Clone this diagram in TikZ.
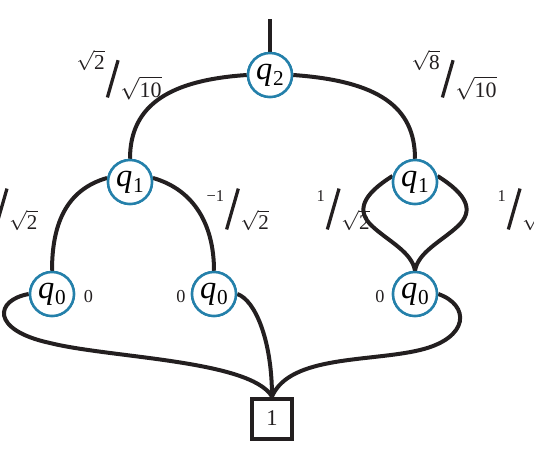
\documentclass[tikz,border=0pt]{standalone}
\usepackage{fontspec}
\setmainfont{Liberation Serif}
\definecolor{qblue}{RGB}{36,128,170}
\definecolor{ink}{RGB}{35,31,32}
\newcommand\qq[1]{{\fontsize{13}{13}\selectfont\itshape q}\kern0.3pt\raisebox{-2.4pt}{\fontsize{8.5}{8.5}\selectfont #1}}
\newcommand\rt[1]{$\sqrt{\mbox{#1}}$}
\newcommand\myfrac[4]{\raisebox{#1}{#2}\kern0.4pt\rotatebox{-16}{\rule{1.3pt}{#4}}\kern0.3pt#3}
\newcommand\topfrac[1]{\myfrac{11.2pt}{\fontsize{8.5}{8.5}\selectfont\rt{#1}}{\fontsize{8.8}{8.8}\selectfont\rt{10}}{15.5pt}}
\newcommand\lowfrac[1]{\myfrac{11.2pt}{\fontsize{6.6}{6.6}\selectfont #1}{\fontsize{8.4}{8.4}\selectfont\rt{2}}{17pt}}
\tikzset{
  qnode/.style={circle, draw=qblue, line width=1pt, minimum size=17.6pt, inner sep=0pt, fill=white},
  edge/.style={line width=1.6pt, draw=ink},
  lab/.style={inner sep=0pt, anchor=base west, text=ink},
  zlab/.style={inner sep=0pt, text=ink, font=\fontsize{7.3}{7.3}\selectfont},
  termbox/.style={draw=ink, line width=1.6pt, minimum size=16pt, inner sep=0pt, fill=white, text=ink, font=\fontsize{9}{9}\selectfont}
}
\begin{document}
\begin{tikzpicture}[x=0.4pt, y=-0.4pt]
\useasboundingbox (0,0) rectangle (534,462);
\clip (0,0) rectangle (534,462);
% nodes
\node[qnode] (q2) at (270,75) {\qq{2}};
\node[qnode] (q1L) at (130,182) {\qq{1}};
\node[qnode] (q1R) at (415,182) {\qq{1}};
\node[qnode] (q0L) at (52,294) {\qq{0}};
\node[qnode] (q0M) at (214,294) {\qq{0}};
\node[qnode] (q0R) at (415,294) {\qq{0}};
\node[termbox] (one) at (272,418.5) {1};
\coordinate (top) at (270,19);
\coordinate (lk) at (372,226);
\coordinate (rk) at (458,226);
\coordinate (bl) at (50,343);
\coordinate (br) at (420,350);
% edges
\draw[edge] (top) -- (q2.north);
\draw[edge] (q2.west) .. controls +(-75,5) and +(0,-55) .. (q1L.north);
\draw[edge] (q2.east) .. controls +(85,6) and +(0,-52) .. (q1R.north);
\draw[edge] (q1L.170) .. controls +(-42,12) and +(0,-45) .. (q0L.north);
\draw[edge] (q1L.10) .. controls +(42,12) and +(0,-45) .. (q0M.north);
\draw[edge] (q1R.165) .. controls (362,195) and (356,211) .. (lk) .. controls (388,241) and (412,252) .. (q0R.north);
\draw[edge] (q1R.15) .. controls (468,195) and (474,211) .. (rk) .. controls (442,241) and (418,252) .. (q0R.north);
\draw[edge] (q0L.west) .. controls (-5,300) and (-10,330) .. (bl) .. controls (110,358) and (250,360) .. (one.north);
\draw[edge] (q0M.east) .. controls (255,300) and (272,340) .. (one.north);
\draw[edge] (q0R.east) .. controls (470,305) and (470,338) .. (br) .. controls (370,362) and (290,355) .. (one.north);
% redraw nodes on top
\node[qnode] at (q2) {\qq{2}};
\node[qnode] at (q1L) {\qq{1}};
\node[qnode] at (q1R) {\qq{1}};
\node[qnode] at (q0L) {\qq{0}};
\node[qnode] at (q0M) {\qq{0}};
\node[qnode] at (q0R) {\qq{0}};
\node[termbox] at (one) {1};
% labels
\node[lab] (w1) at (76,97) {\topfrac{2}};
\node[lab] (w2) at (411,97) {\topfrac{8}};
\node[lab, anchor=base east] (w3) at (38,229) {\lowfrac{1}};
\node[lab] (w4) at (206,229) {\lowfrac{−1}};
\node[lab] (w5) at (316,229) {\lowfrac{1}};
\node[lab] (w6) at (497,229) {\lowfrac{1}};
\node[zlab] (z1) at (88.5,297) {0};
\node[zlab] (z2) at (181,297) {0};
\node[zlab] (z3) at (380,297) {0};
\end{tikzpicture}
\end{document}
